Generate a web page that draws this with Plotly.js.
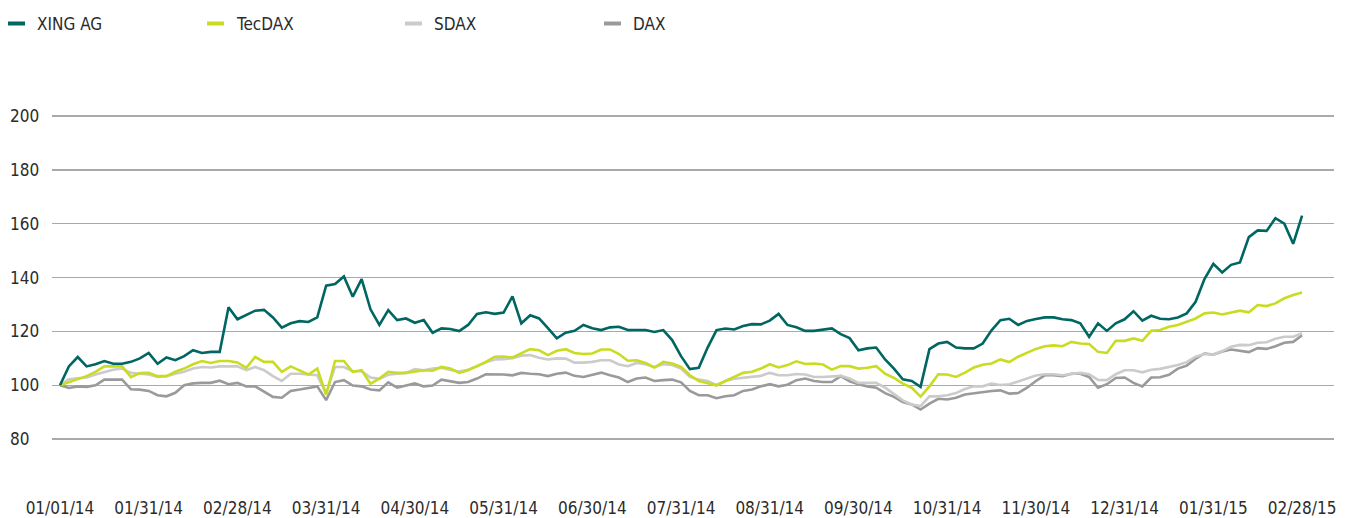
<!DOCTYPE html>
<html>
<head>
<meta charset="utf-8">
<script src="https://cdn.plot.ly/plotly-3.0.1.min.js"></script>
<style>
html,body{margin:0;padding:0;background:#fff;}
#chart{width:1348px;height:518px;}
</style>
</head>
<body>
<div id="chart"></div>
<script>
// Trading-day sample index (10 samples per month step)
var tickLabels = ["01/01/14","01/31/14","02/28/14","03/31/14","04/30/14","05/31/14","06/30/14","07/31/14","08/31/14","09/30/14","10/31/14","11/30/14","12/31/14","01/31/15","02/28/15"];
var yTicks = [80,100,120,140,160,180,200];
var seriesNames = ["XING AG","TecDAX","SDAX","DAX"];

var xing = [100,107,110.5,107,107.8,109,108,108,108.7,110,112,108,110.3,109.3,110.8,113,112,112.4,112.4,129,
124.5,126,127.7,128,125.2,121.4,123,123.8,123.5,125.2,137,137.6,140.4,132.9,139.4,128.2,122.4,127.9,124.2,124.8,
123.2,124.2,119.5,121.1,120.9,120.1,122.4,126.5,127.1,126.5,127,133,123,126,124.8,121.2,117.4,119.5,120.2,122.4,
121.2,120.5,121.5,121.7,120.5,120.5,120.5,119.8,120.5,116.8,110.8,106,106.5,114,120.5,121.1,120.7,122,122.7,122.6,
124,126.5,122.4,121.5,120.2,120.2,120.7,121.1,119,117.5,113,113.7,114,109.6,106.2,102.2,101.6,99.4,113.4,115.5,
116.1,114,113.7,113.7,115.5,120.4,124.2,124.7,122.4,123.9,124.6,125.2,125.2,124.5,124.2,123,118,123,120.2,123,
124.5,127.5,124,125.8,124.7,124.5,125.2,126.7,131,139.4,145.1,141.9,144.7,145.6,155,157.5,157.3,162,160,152.5,163];

var tecdax = [100,101.2,102.5,103.4,105,107,107,107,103,104.5,104.6,103.4,103.4,105,106.2,107.8,109,108.3,109,109,
108.5,106.5,110.5,108.7,108.7,105,107,105.6,104,106.2,96.5,109,109,105,105.6,100.6,102.5,105,104.6,104.6,
105.1,105.6,105.4,106.8,106.2,104.6,105.6,107,108.7,110.6,110.7,110.3,111.8,113.4,113,111.2,112.8,113.4,112,111.6,
111.8,113.3,113.3,111.6,109.1,109.3,108.3,106.6,108.7,108.1,106.8,103.7,101.6,100.9,100,101.6,103.1,104.6,105,106.2,
107.8,106.6,107.5,108.9,107.9,108.1,107.7,105.8,107.1,107.1,106.2,106.5,107.1,104.3,102.7,100.6,99.1,95.8,99.6,104.1,
104,103.1,104.7,106.6,107.6,108.1,109.6,108.6,110.6,112.1,113.5,114.5,114.8,114.5,116.1,115.5,115.3,112.4,112,116.5,
116.5,117.4,116.5,120.2,120.5,121.7,122.4,123.6,124.8,126.7,127,126.3,127,127.7,127.1,129.8,129.4,130.4,132.3,133.5,134.4];

var sdax = [100,102.2,102.6,102.9,104,105,105.8,106.2,104.6,104.3,104,103.1,103.4,104.3,105,106.2,106.8,106.6,107,107,
107,105.6,106.8,105.6,103.4,101.6,104.3,104.3,104,103.7,97,106.8,106.8,105.2,105.2,102.9,102.4,103.9,104.3,104.6,
106,105.6,106.2,106.5,105.7,105.1,105.8,107,108.5,109.6,109.7,110,111,111.2,110.2,109.6,110,109.9,108.4,108.4,
108.7,109.3,109.3,107.7,107.1,108.3,107.8,106.7,107.8,107.5,106.2,103.1,102.1,101.6,100,101.6,102.4,102.7,103.1,103.5,
104.6,103.7,103.7,104.2,104,103.1,103.1,103.2,103.5,102.5,100.9,100.9,100.9,99.1,96.9,94.4,92.9,92.3,95.9,95.9,
96.3,97.1,98.6,99.6,99.6,100.6,100.1,100.4,101.4,102.5,103.6,104.1,104.1,103.7,104.1,104.6,104.1,102,101.9,104.1,
105.6,105.6,104.8,105.8,106.1,106.8,107.5,108.6,110.6,111.6,111.4,112.7,114.3,115,114.9,115.8,116,117.3,118,118,119.3];

var dax = [100,99,99.6,99.4,100,102.1,102.1,102.1,98.5,98.4,97.9,96.3,95.9,97.2,100,100.7,100.9,100.9,101.7,100.4,
100.9,99.6,99.6,97.5,95.7,95.4,97.9,98.4,99,99.6,94.5,101.2,101.9,99.9,99.6,98.4,98.1,101.1,99.1,99.8,
100.7,99.6,99.9,102.1,101.6,100.9,101.2,102.5,104.1,104.1,104,103.7,104.6,104.3,104.1,103.4,104.3,104.7,103.5,103.1,
104,104.7,103.7,102.9,101.2,102.5,102.9,101.6,101.9,102.1,101.1,97.9,96.3,96.3,95.2,95.9,96.3,97.9,98.4,99.6,
100.4,99.6,100.2,101.9,102.5,101.6,101.2,101.2,103.4,101.5,100.4,99.6,99.1,97.1,95.7,93.8,92.9,91,93.2,95,
94.7,95.4,96.6,97.1,97.5,97.9,98.1,96.9,97.1,99.1,101.6,103.7,103.7,103.4,104.3,104.3,103.1,99.1,100.4,102.7,
102.9,100.9,99.6,102.9,103,103.9,106.2,107.3,109.9,111.8,111.4,112.5,113.3,112.8,112.3,113.8,113.5,114.5,115.8,116.1,118.6];

var colors = ["#006661","#c9dc22","#cbcbcb","#9a9a9a"];
var values = [xing, tecdax, sdax, dax];

// layout geometry
var W = 1348, H = 518;
var M = {l:52, r:14, t:100, b:22};
var plotW = W - M.l - M.r, plotH = H - M.t - M.b;
function px2paperX(px){ return (px - M.l) / plotW; }
function px2paperY(py){ return (H - M.b - py) / plotH; }

var idx = xing.map(function(_, i){ return i; });
var tickVals = tickLabels.map(function(_, k){ return k * 10; });

// draw order: DAX, SDAX, TecDAX, XING (XING on top)
var order = [3,2,1,0];
var traces = order.map(function(s){
  return {
    x: idx, y: values[s], type: "scatter", mode: "lines", name: seriesNames[s],
    line: {color: colors[s], width: 2.6}, showlegend: false, hoverinfo: "skip"
  };
});

var fontFam = "'DejaVu Sans Condensed', 'DejaVu Sans', sans-serif";
var annotations = [];
var shapes = [];

// y tick labels (left aligned)
yTicks.forEach(function(v){
  annotations.push({
    xref: "paper", yref: "y", x: px2paperX(8), y: v, xanchor: "left", yanchor: "middle",
    text: String(v), showarrow: false, font: {family: fontFam, size: 17, color: "#2b2b2b"}
  });
});

// legend (custom)
var legendX = [8, 207, 405, 604];
var legendY = 23.5;
seriesNames.forEach(function(n, s){
  shapes.push({
    type: "line", xref: "paper", yref: "paper",
    x0: px2paperX(legendX[s]), x1: px2paperX(legendX[s] + 17),
    y0: px2paperY(legendY), y1: px2paperY(legendY),
    line: {color: colors[s], width: 4}
  });
  annotations.push({
    xref: "paper", yref: "paper", x: px2paperX(legendX[s] + 27), y: px2paperY(legendY),
    xanchor: "left", yanchor: "middle", text: n, showarrow: false,
    font: {family: fontFam, size: 17, color: "#2b2b2b"}
  });
});

var layout = {
  width: W, height: H,
  margin: M,
  paper_bgcolor: "#ffffff", plot_bgcolor: "#ffffff",
  showlegend: false,
  xaxis: {
    range: [-0.9, 143.6], showgrid: false, zeroline: false, showline: false,
    tickmode: "array", tickvals: tickVals, ticktext: tickLabels, ticks: "",
    tickfont: {family: fontFam, size: 17, color: "#2b2b2b"}, fixedrange: true
  },
  yaxis: {
    range: [58.9, 205.9], showgrid: true, gridcolor: "#a9a9a9", gridwidth: 1.5,
    zeroline: false, showline: false, tickmode: "array", tickvals: yTicks,
    showticklabels: false, ticks: "", fixedrange: true
  },
  annotations: annotations,
  shapes: shapes
};

Plotly.newPlot("chart", traces, layout, {displayModeBar: false, staticPlot: true});
</script>
</body>
</html>
